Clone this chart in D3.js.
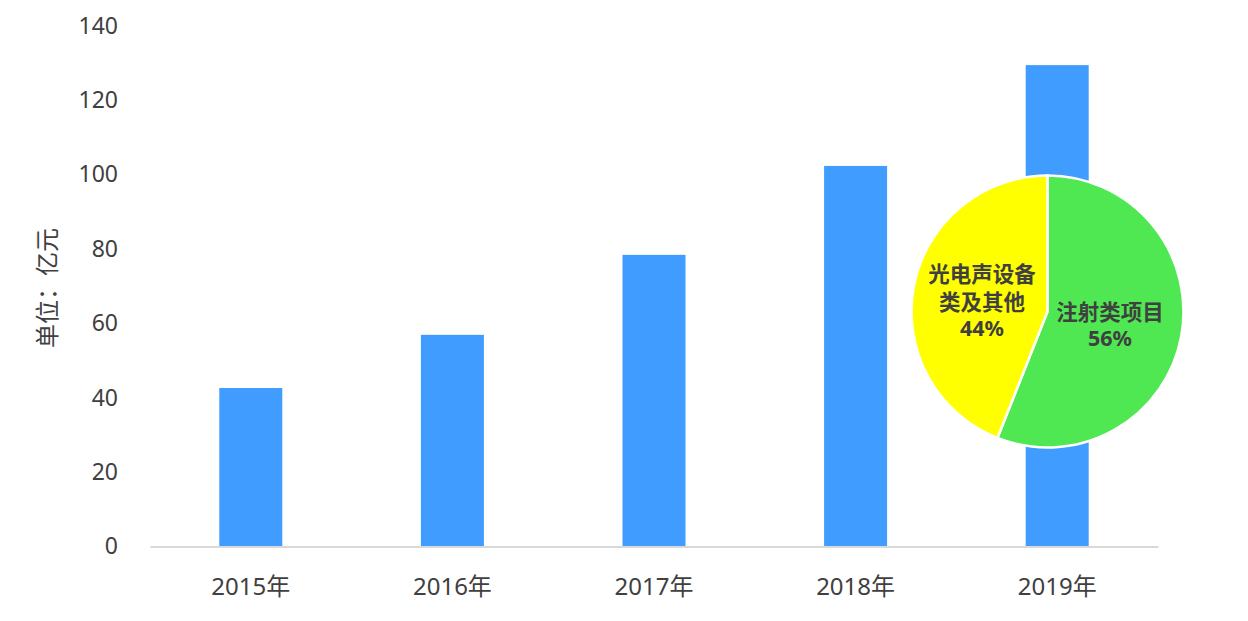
<!DOCTYPE html>
<html><head><meta charset="utf-8">
<script src="https://cdn.jsdelivr.net/npm/d3@7"></script>
<style>body{margin:0;background:#fff;}svg{display:block;font-family:"Noto Sans","Noto Sans CJK SC",sans-serif;}</style>
</head><body>
<svg id="c" width="1248" height="621"></svg>
<script>
const categories = ["2015年","2016年","2017年","2018年","2019年"];
const values = [42.6, 56.9, 78.4, 102.3, 129.4];
const yTicks = [0,20,40,60,80,100,120,140];
const pieLabels = ["注射类项目","光电声设备类及其他"];
const pieValues = [56, 44];
const yTitle = "单位：亿元";

const FONT = '"Noto Sans","Noto Sans CJK SC",sans-serif';
const svg = d3.select("#c");
const x = d3.scaleBand().domain(categories).range([150,1158]).paddingInner(0.6875).paddingOuter(0.34375);
const y = d3.scaleLinear().domain([0,140]).range([546.5, 25.7]);

svg.append("g").selectAll("rect").data(values).join("rect")
  .attr("x",(d,i)=>x(categories[i])).attr("width",x.bandwidth())
  .attr("y",d=>y(d)).attr("height",d=>y(0)-y(d)).attr("fill","#409CFF");

const ya = svg.append("g").attr("transform","translate(128,0)")
  .call(d3.axisLeft(y).tickValues(yTicks).tickSize(0).tickPadding(10));
ya.select(".domain").remove();
ya.selectAll("text").attr("font-size",23).attr("fill","#404040").attr("font-family",FONT);

const xa = svg.append("g").attr("transform",`translate(0,${y(0)})`)
  .call(d3.axisBottom(x).tickSize(0).tickPadding(31));
xa.select(".domain").attr("stroke","#d9d9d9").attr("stroke-width",2);
xa.selectAll("text").attr("font-size",24).attr("fill","#404040").attr("font-family",FONT);

svg.append("text").attr("transform","translate(56,288) rotate(-90)")
  .attr("text-anchor","middle").attr("font-size",24).attr("fill","#404040").text(yTitle);

// pie
const cx=1047.5, cy=311.5, r=136;
const pie = d3.pie().sort(null).value(d=>d)(pieValues);
const arc = d3.arc().innerRadius(0).outerRadius(r);
const colors=["#4FE852","#FFFF00"];
const pg = svg.append("g").attr("transform",`translate(${cx},${cy})`);
pg.selectAll("path").data(pie).join("path").attr("d",arc)
  .attr("fill",(d,i)=>colors[i]).attr("stroke","#fff").attr("stroke-width",2.5);

const lab = svg.append("g").attr("font-size",21.5).attr("font-weight","bold").attr("fill","#404040").attr("text-anchor","middle");
const t1 = lab.append("text");
t1.append("tspan").attr("x",1110).attr("y",320).text(pieLabels[0]);
t1.append("tspan").attr("x",1110).attr("y",345.5).text(pieValues[0]+"%");
const t2 = lab.append("text");
t2.append("tspan").attr("x",982).attr("y",281.5).text(pieLabels[1].slice(0,5));
t2.append("tspan").attr("x",982).attr("y",310).text(pieLabels[1].slice(5));
t2.append("tspan").attr("x",982).attr("y",335.5).text(pieValues[1]+"%");
</script>
</body></html>
